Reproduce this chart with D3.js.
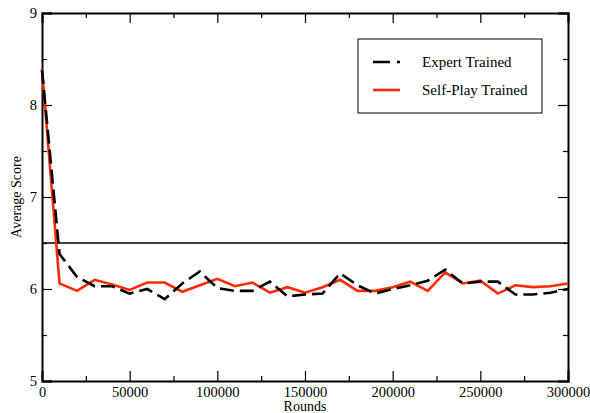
<!DOCTYPE html>
<html lang="en">
<head>
<meta charset="UTF-8">
<title>Average Score</title>
<script src="https://cdn.jsdelivr.net/npm/d3@7/dist/d3.min.js"></script>
<style>
  body{margin:0;background:#fff}
  text{font-family:"Liberation Serif","Times New Roman",serif;fill:#000}
</style>
</head>
<body>
<div class="chart"></div>
<script>
    // data: one point every 10000 rounds
    let rounds=d3.range(0,300001,10000)
    let expertTrained=[8.38,6.38,6.13,6.03,6.03,5.95,6.00,5.89,6.06,6.19,6.01,
        5.98,5.98,6.08,5.92,5.94,5.95,6.17,6.04,5.95,6.00,
        6.04,6.09,6.21,6.06,6.08,6.08,5.94,5.94,5.96,6.00]
    let selfPlayTrained=[8.39,6.06,5.98,6.10,6.05,5.99,6.07,6.07,5.97,6.04,6.11,
        6.03,6.07,5.96,6.02,5.96,6.02,6.10,5.98,5.98,6.02,
        6.08,5.98,6.18,6.06,6.09,5.95,6.04,6.02,6.03,6.06]
    let threshold=6.5
    let xMajor=[0,50000,100000,150000,200000,250000,300000]
    let xMinor=[25000,75000,125000,175000,225000,275000]
    let yMajor=[5,6,7,8,9]
    let yMinor=[5.5,6.5,7.5,8.5]
    let seriesNames=['Expert Trained','Self-Play Trained']

    let W=590,H=413
    let margin={left:42,right:22,top:13,bottom:32}
    let x=d3.scaleLinear().domain([0,300000]).range([margin.left,W-margin.right])
    let y=d3.scaleLinear().domain([5,9]).range([H-margin.bottom,margin.top])

    let svg=d3.select('.chart').append('svg').attr('width',W).attr('height',H)

    // inward ticks on all four sides
    let axes=[
        {axis:d3.axisBottom(x).tickValues(xMajor).tickSize(-10).tickPadding(6).tickFormat(d3.format('d')),t:'translate(0,'+y(5)+')',minor:d3.axisBottom(x).tickValues(xMinor).tickSize(-5).tickFormat('')},
        {axis:d3.axisTop(x).tickValues(xMajor).tickSize(-10).tickFormat(''),t:'translate(0,'+y(9)+')',minor:d3.axisTop(x).tickValues(xMinor).tickSize(-5).tickFormat('')},
        {axis:d3.axisLeft(y).tickValues(yMajor).tickSize(-10).tickPadding(5).tickFormat(d3.format('d')),t:'translate('+x(0)+',0)',minor:d3.axisLeft(y).tickValues(yMinor).tickSize(-5).tickFormat('')},
        {axis:d3.axisRight(y).tickValues(yMajor).tickSize(-10).tickFormat(''),t:'translate('+x(300000)+',0)',minor:d3.axisRight(y).tickValues(yMinor).tickSize(-5).tickFormat('')}
    ]
    axes.forEach(a=>{
        let g=svg.append('g').attr('transform',a.t).call(a.axis)
        g.select('.domain').attr('stroke-width',2)
        g.selectAll('.tick line').attr('stroke-width',1.2)
        g.selectAll('text').style('font-size','14.5px').style('font-family','"Liberation Serif",serif')
        let m=svg.append('g').attr('transform',a.t).call(a.minor)
        m.select('.domain').remove()
        m.selectAll('.tick line').attr('stroke-width',1.2)
    })

    // threshold line
    svg.append('line').attr('x1',x(0)).attr('x2',x(300000))
        .attr('y1',y(threshold)).attr('y2',y(threshold))
        .attr('stroke','#000').attr('stroke-width',1.5)

    let line=d3.line().x((d,i)=>x(rounds[i])).y(d=>y(d))
    svg.append('path').datum(selfPlayTrained).attr('d',line)
        .attr('fill','none').attr('stroke','#ff2a00').attr('stroke-width',2.6)
    svg.append('path').datum(expertTrained).attr('d',line)
        .attr('fill','none').attr('stroke','#000').attr('stroke-width',2.6)
        .attr('stroke-dasharray','14,6')

    // axis titles
    svg.append('text').attr('x',(x(0)+x(300000))/2).attr('y',H-2)
        .attr('text-anchor','middle').style('font-size','14px').text('Rounds')
    svg.append('text').attr('transform','translate(21,'+((y(5)+y(9))/2)+') rotate(-90)')
        .attr('text-anchor','middle').style('font-size','14px').text('Average Score')

    // legend
    let lg=svg.append('g')
    lg.append('rect').attr('x',358).attr('y',39).attr('width',184).attr('height',74)
        .attr('fill','#fff').attr('stroke','#000').attr('stroke-width',1)
    let styles=[{c:'#000',dash:'17,7'},{c:'#ff2a00',dash:null}]
    seriesNames.forEach((s,i)=>{
        let yy=62+i*28
        lg.append('line').attr('x1',373).attr('x2',400).attr('y1',yy).attr('y2',yy)
            .attr('stroke',styles[i].c).attr('stroke-width',2.6).attr('stroke-dasharray',styles[i].dash)
        lg.append('text').attr('x',422).attr('y',yy+5).style('font-size','15px').text(s)
    })
</script>
</body>
</html>
